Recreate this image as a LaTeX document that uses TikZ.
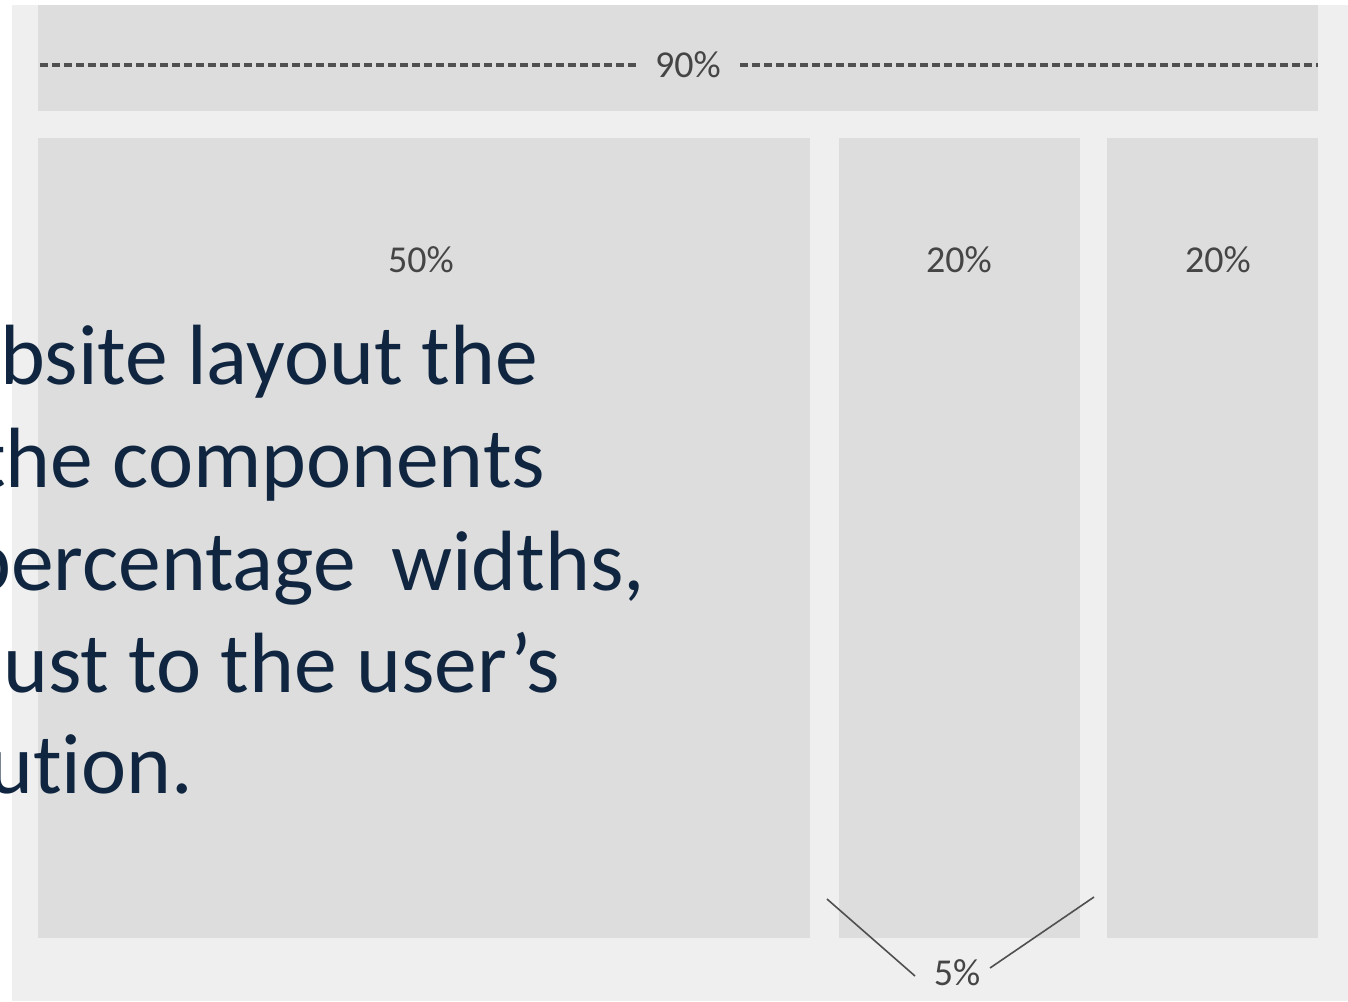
\documentclass[tikz,border=0pt]{standalone}
\usepackage{fontspec}
\setmainfont{Carlito}[Ligatures=NoCommon]
\definecolor{panel}{HTML}{EFEFEF}
\definecolor{boxgray}{HTML}{DDDDDD}
\definecolor{labgray}{HTML}{454545}
\definecolor{dashgray}{HTML}{505050}
\definecolor{navy}{HTML}{10253F}
\tikzset{
  box/.style={fill=boxgray, draw=none, inner sep=0pt, anchor=north west},
  pct/.style={text=labgray, font=\fontsize{38}{40}\selectfont, inner sep=1pt},
  big/.style={text=navy, font=\fontsize{85.5}{100}\selectfont, inner sep=0pt, anchor=base west},
  guide/.style={draw=dashgray, line width=1.6pt},
  dashline/.style={draw=dashgray, line width=3.5pt, dash pattern=on 8pt off 4pt},
}
\begin{document}
\begin{tikzpicture}[x=1pt,y=-1pt]
\useasboundingbox (0,0) rectangle (1348,1001);
\clip (0,0) rectangle (1348,1001);
\fill[white] (0,0) rectangle (1348,1001);
\fill[panel] (12,5) rectangle (1348,1001);
% top bar
\node[box, minimum width=1280pt, minimum height=106pt] (top) at (38,5) {};
\node[pct] (p90) at (688,65) {90\%};
\coordinate (d1s) at (40,65);
\coordinate (d1e) at (636,65);
\coordinate (d2s) at (740,65);
\coordinate (d2e) at (1318,65);
\draw[dashline] (d1s) -- (d1e);
\draw[dashline] (d2s) -- (d2e);
% columns
\node[box, minimum width=772pt, minimum height=800pt] (c1) at (38,138) {};
\node[box, minimum width=241pt, minimum height=800pt] (c2) at (839,138) {};
\node[box, minimum width=211pt, minimum height=800pt] (c3) at (1107,138) {};
\node[pct] (p50) at (421,260) {50\%};
\node[pct] (p20a) at (959,260) {20\%};
\node[pct] (p20b) at (1218,260) {20\%};
% gap marker
\node[pct] (p5) at (957,973) {5\%};
\coordinate (g1) at (827,899);
\coordinate (g1e) at (915,976);
\coordinate (g2) at (1094,897);
\coordinate (g2e) at (990,968);
\draw[guide] (g1) -- (g1e);
\draw[guide] (g2) -- (g2e);
% overlay text
\node[big] (t1) at (0,384) {bsite layout the};
\node[big] (t2) at (-23,487) {the components};
\node[big] (t3) at (-34,590) {\hbox spread 16pt{percentage widths,}};
\node[big] (t4) at (3,692) {ust to the user’s};
\node[big] (t5) at (-12,793) {ution.};
\end{tikzpicture}
\end{document}
